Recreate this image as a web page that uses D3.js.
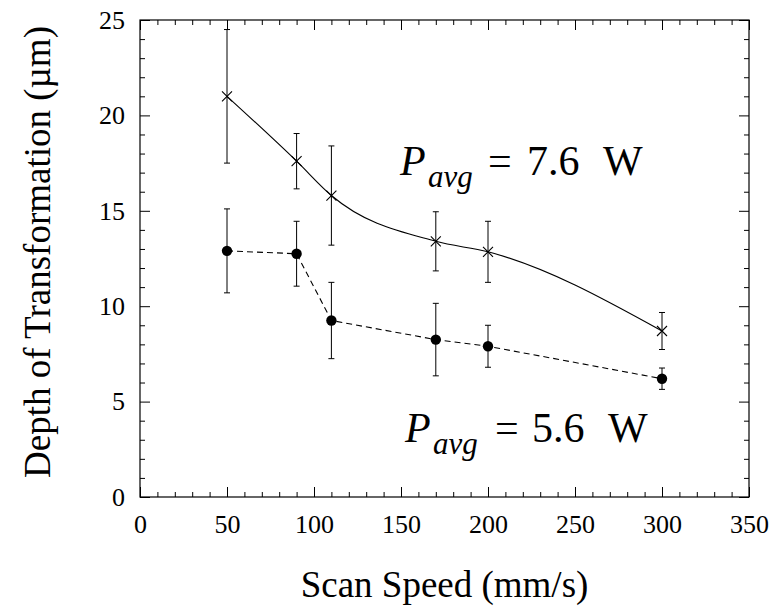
<!DOCTYPE html>
<html>
<head>
<meta charset="utf-8">
<script src="https://cdn.jsdelivr.net/npm/d3@7"></script>
<style>
  html, body { margin: 0; padding: 0; background: #fff; }
  svg { display: block; }
</style>
</head>
<body>
<svg id="chart" width="777" height="613"></svg>
<script>
// Scan speed (mm/s)
const speeds = [50, 90, 110, 170, 200, 300];

// Depth of transformation (µm) at P_avg = 7.6 W, with error half-widths
const depthHigh = [21.0, 17.6, 15.8, 13.4, 12.85, 8.7];
const errHigh   = [3.5, 1.45, 2.6, 1.55, 1.6, 0.97];

// Depth of transformation (µm) at P_avg = 5.6 W, with error half-widths
const depthLow = [12.9, 12.75, 9.25, 8.25, 7.9, 6.2];
const errLow   = [2.2, 1.7, 2.0, 1.9, 1.1, 0.56];

const xTicks = [0, 50, 100, 150, 200, 250, 300, 350];
const yTicks = [0, 5, 10, 15, 20, 25];

const SERIF = "Liberation Serif, Times New Roman, Times, serif";

const svg = d3.select("#chart").attr("font-family", SERIF);
const plotL = 140, plotR = 749, plotT = 20, plotB = 497;

const x = d3.scaleLinear().domain([0, 350]).range([plotL, plotR]);
const y = d3.scaleLinear().domain([0, 25]).range([plotB, plotT]);

const minorX = d3.range(0, 351, 10).filter(v => v % 50 !== 0);
const minorY = d3.range(0, 26, 1).filter(v => v % 5 !== 0);

// Axes with inward ticks on all four sides
function styleAxis(g) {
  g.attr("font-family", SERIF);
  g.select(".domain").remove();
  g.selectAll(".tick line").attr("stroke", "#000").attr("stroke-width", 1);
  g.selectAll(".tick text").attr("fill", "#000").attr("font-family", SERIF).attr("font-size", 26);
}

svg.append("g").attr("transform", `translate(0,${plotB})`)
  .call(d3.axisBottom(x).tickValues(xTicks).tickSize(-10).tickPadding(18).tickFormat(d3.format("d")))
  .call(styleAxis);
svg.append("g").attr("transform", `translate(0,${plotB})`)
  .call(d3.axisBottom(x).tickValues(minorX).tickSize(-5).tickFormat(""))
  .call(styleAxis);
svg.append("g").attr("transform", `translate(0,${plotT})`)
  .call(d3.axisTop(x).tickValues(xTicks).tickSize(-10).tickFormat(""))
  .call(styleAxis);
svg.append("g").attr("transform", `translate(0,${plotT})`)
  .call(d3.axisTop(x).tickValues(minorX).tickSize(-5).tickFormat(""))
  .call(styleAxis);

svg.append("g").attr("transform", `translate(${plotL},0)`)
  .call(d3.axisLeft(y).tickValues(yTicks).tickSize(-10).tickPadding(15).tickFormat(d3.format("d")))
  .call(styleAxis);
svg.append("g").attr("transform", `translate(${plotL},0)`)
  .call(d3.axisLeft(y).tickValues(minorY).tickSize(-5).tickFormat(""))
  .call(styleAxis);
svg.append("g").attr("transform", `translate(${plotR},0)`)
  .call(d3.axisRight(y).tickValues(yTicks).tickSize(-10).tickFormat(""))
  .call(styleAxis);
svg.append("g").attr("transform", `translate(${plotR},0)`)
  .call(d3.axisRight(y).tickValues(minorY).tickSize(-5).tickFormat(""))
  .call(styleAxis);

// Plot frame
svg.append("rect")
  .attr("x", plotL).attr("y", plotT)
  .attr("width", plotR - plotL).attr("height", plotB - plotT)
  .attr("fill", "none").attr("stroke", "#000").attr("stroke-width", 1.2);

// Axis titles
svg.append("text")
  .attr("x", (plotL + plotR) / 2).attr("y", 597)
  .attr("text-anchor", "middle").attr("font-size", 37).attr("font-family", SERIF)
  .text("Scan Speed (mm/s)");
svg.append("text")
  .attr("transform", "translate(50,252) rotate(-90)")
  .attr("text-anchor", "middle").attr("font-size", 37).attr("font-family", SERIF)
  .text("Depth of Transformation (µm)");

// Series data
const high = speeds.map((s, i) => ({ s, v: depthHigh[i], e: errHigh[i] }));
const low  = speeds.map((s, i) => ({ s, v: depthLow[i],  e: errLow[i] }));

// Error bars
function errorBars(data) {
  const g = svg.append("g").attr("stroke", "#000").attr("stroke-width", 1);
  data.forEach(d => {
    const cx = x(d.s), y1 = y(d.v + d.e), y2 = y(d.v - d.e);
    g.append("line").attr("x1", cx).attr("x2", cx).attr("y1", y1).attr("y2", y2);
    g.append("line").attr("x1", cx - 3).attr("x2", cx + 3).attr("y1", y1).attr("y2", y1);
    g.append("line").attr("x1", cx - 3).attr("x2", cx + 3).attr("y1", y2).attr("y2", y2);
  });
}
errorBars(high);
errorBars(low);

// 7.6 W: smooth solid curve with × markers
svg.append("path").datum(high)
  .attr("fill", "none").attr("stroke", "#000").attr("stroke-width", 1.1)
  .attr("d", d3.line().x(d => x(d.s)).y(d => y(d.v)).curve(d3.curveMonotoneX));
svg.append("g").selectAll("path").data(high).join("path")
  .attr("transform", d => `translate(${x(d.s)},${y(d.v)})`)
  .attr("d", "M-5,-5L5,5M-5,5L5,-5")
  .attr("stroke", "#000").attr("stroke-width", 1.1).attr("fill", "none");

// 5.6 W: dashed straight segments with filled circles
svg.append("path").datum(low)
  .attr("fill", "none").attr("stroke", "#000").attr("stroke-width", 1.1)
  .attr("stroke-dasharray", "6,4")
  .attr("d", d3.line().x(d => x(d.s)).y(d => y(d.v)));
svg.append("g").selectAll("circle").data(low).join("circle")
  .attr("cx", d => x(d.s)).attr("cy", d => y(d.v)).attr("r", 5.2)
  .attr("fill", "#000");

// Power labels
function powerLabel(px, baseline, eqX, numX, wX, num) {
  const t = svg.append("text").attr("y", baseline).attr("font-size", 42)
    .attr("font-family", SERIF).attr("fill", "#000");
  t.append("tspan").attr("x", px).attr("font-style", "italic").text("P");
  t.append("tspan").attr("x", px + 28).attr("dy", 12).attr("font-size", 31).attr("font-style", "italic").text("avg");
  t.append("tspan").attr("x", eqX).attr("dy", -12).text("=");
  t.append("tspan").attr("x", numX).text(num);
  t.append("tspan").attr("x", wX).text("W");
}
powerLabel(400, 175, 488, 527, 603, "7.6");
powerLabel(405, 442, 495, 532, 608, "5.6");
</script>
</body>
</html>
